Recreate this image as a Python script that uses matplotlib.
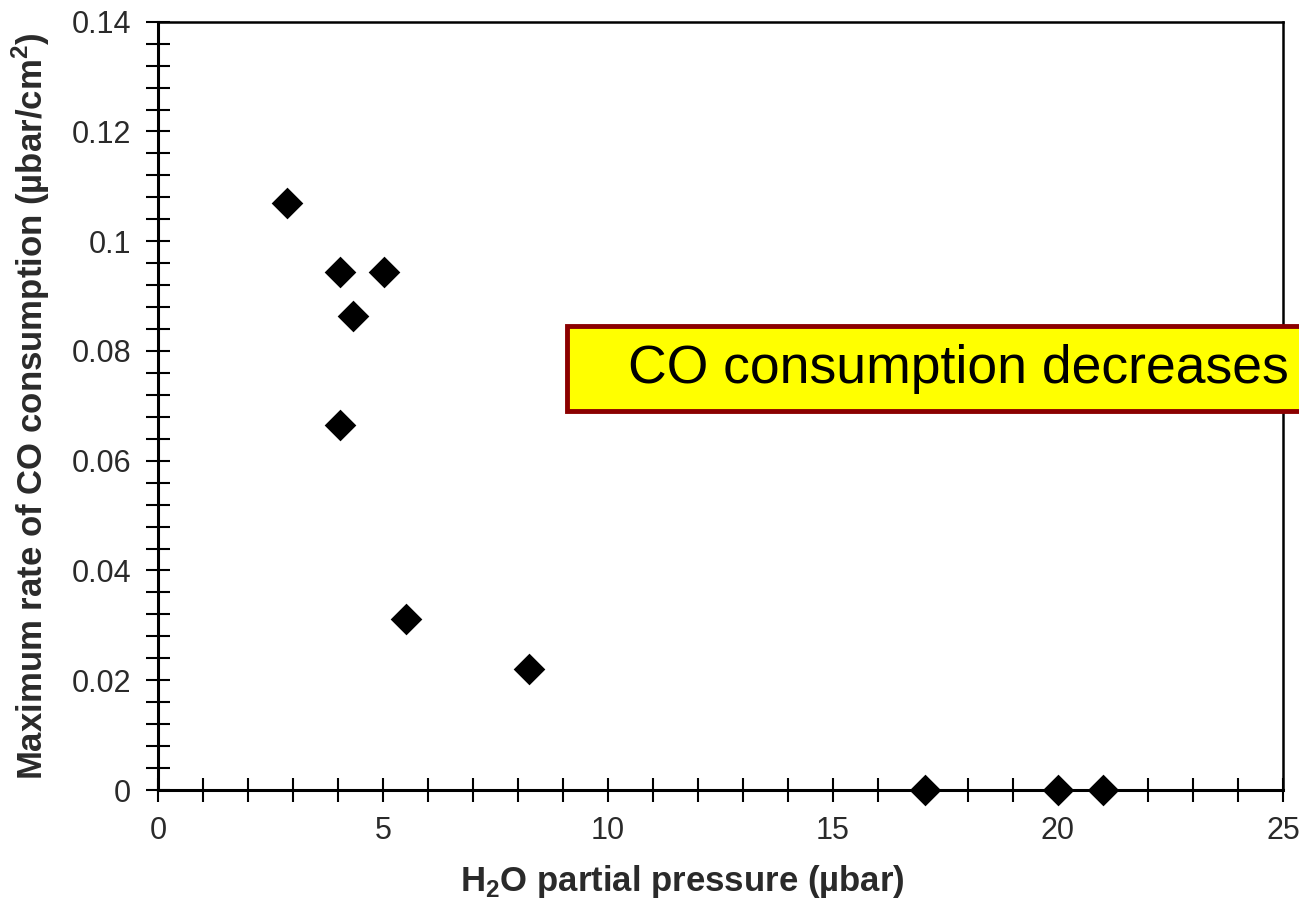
import matplotlib
matplotlib.use("Agg")
import matplotlib.pyplot as plt
from matplotlib.patches import Rectangle
from matplotlib.ticker import MultipleLocator

# water partial pressure (µbar) and peak CO consumption rate (µbar/cm²)
h2o_pressure = [2.87, 4.04, 5.02, 4.33, 4.04, 5.51, 8.24, 17.04, 20.0, 21.0]
co_rate = [0.107, 0.0944, 0.0944, 0.0864, 0.0665, 0.0312, 0.0220, 0.0, 0.0, 0.0]

x_ticks = [0, 5, 10, 15, 20, 25]
y_ticks = [0, 0.02, 0.04, 0.06, 0.08, 0.1, 0.12, 0.14]
y_tick_labels = ["0", "0.02", "0.04", "0.06", "0.08", "0.1", "0.12", "0.14"]
note_text = "CO consumption decreases"

plt.rcParams['font.family'] = ['Liberation Sans', 'DejaVu Sans']
plt.rcParams['mathtext.fontset'] = 'custom'
plt.rcParams['mathtext.rm'] = 'Liberation Sans:bold'
plt.rcParams['mathtext.bf'] = 'Liberation Sans:bold'

W, H = 1299, 898
fig = plt.figure(figsize=(W / 100, H / 100), dpi=100)
ax = fig.add_axes([158 / W, 1 - 790 / H, (1283 - 158) / W, (790 - 21.7) / H])

ax.scatter(h2o_pressure, co_rate, marker='D', s=260, color='black',
           linewidths=0, zorder=5, clip_on=False)

ax.set_xlim(0, 25)
ax.set_ylim(0, 0.14)
ax.set_xticks(x_ticks)
ax.set_yticks(y_ticks)
ax.set_yticklabels(y_tick_labels)
ax.xaxis.set_minor_locator(MultipleLocator(1))
ax.yaxis.set_minor_locator(MultipleLocator(0.004))

ax.tick_params(which='both', direction='inout', length=17, width=1.5,
               color='black', top=False, right=False)
ax.tick_params(axis='y', which='major', labelsize=22, pad=11, labelcolor='#2a2a2a')
ax.tick_params(axis='x', which='major', labelsize=22, pad=10, labelcolor='#2a2a2a')

for side in ['left', 'bottom']:
    ax.spines[side].set_linewidth(2.2)
for side in ['top', 'right']:
    ax.spines[side].set_linewidth(1.8)

ax.set_xlabel(r'H$_{\mathbf{2}}$O partial pressure (µbar)', fontsize=25,
              fontweight='bold', color='#2a2a2a')
ax.set_ylabel(r'Maximum rate of CO consumption (µbar/cm$^{\mathbf{2}}$)', fontsize=25,
              fontweight='bold', color='#2a2a2a', labelpad=14)
# x label sits a little left of the axis centre
ax.xaxis.set_label_coords(0.466, -0.095)

# yellow callout box running off the right edge
box = Rectangle((567 / W, 1 - 411 / H), (W + 20 - 567) / W, 85 / H,
                transform=fig.transFigure, facecolor='#ffff00',
                edgecolor='#8b0000', linewidth=3.5, zorder=10)
fig.patches.append(box)
fig.text(628 / W, 1 - 369 / H, note_text, fontsize=38.5, color='black',
         va='center', ha='left', zorder=11)

fig.savefig('out.png', dpi=100)
